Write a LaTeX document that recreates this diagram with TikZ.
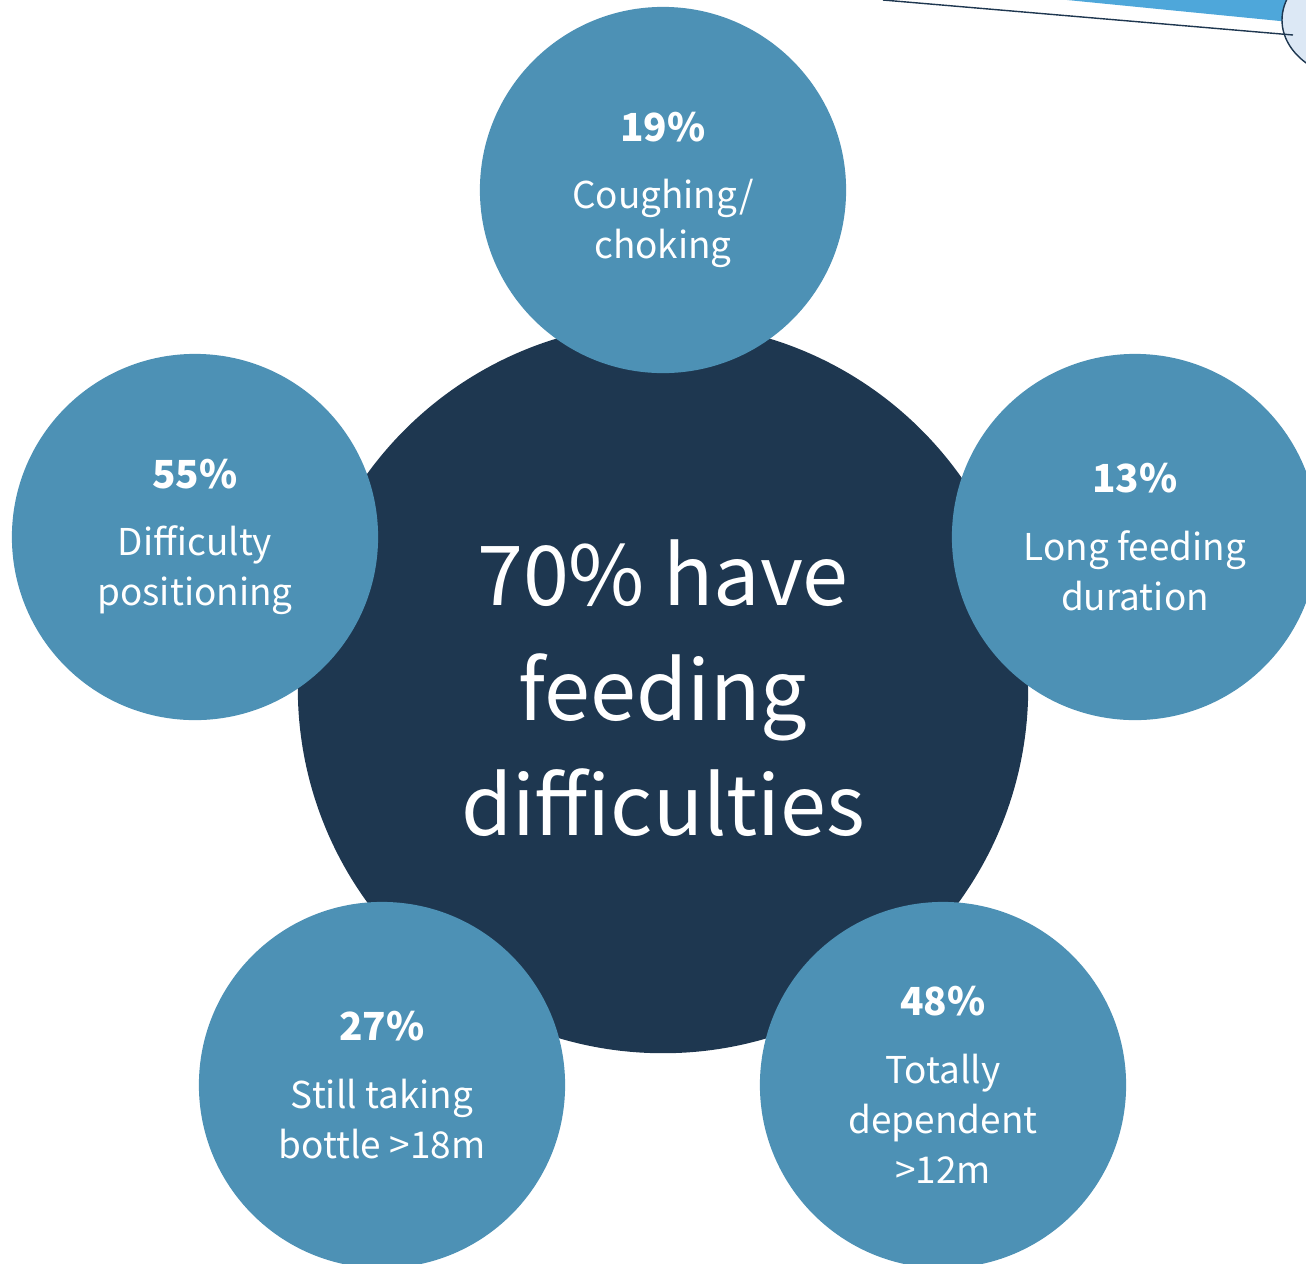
\documentclass[tikz,border=0pt]{standalone}
\usepackage{fontspec}
\setmainfont{Noto Sans CJK JP}
\definecolor{navy}{HTML}{1E3750}
\definecolor{steel}{HTML}{4D91B5}
\definecolor{band}{HTML}{4EA7DA}
\definecolor{pale}{HTML}{DCE8F5}
\newcommand{\pct}[1]{{\fontsize{11}{14}\bfseries #1}\\[5pt]}
\begin{document}
\begin{tikzpicture}[x=0.01cm, y=-0.01cm,
    item/.style={circle, fill=steel, minimum size=3.66cm, inner sep=0pt, text=white, align=center, font=\fontsize{10.5}{14.2}\selectfont}]
        \useasboundingbox (0,0) rectangle (1306,1263);
        \clip (0,0) rectangle (1306,1263);

        % corner decoration
        \fill[band] (1067,0) -- (1306,0) -- (1306,23) -- (1280,21) -- cycle;
        \draw[navy, line width=0.4pt, fill=pale] (1362,20) ellipse [x radius=80, y radius=60];
        \draw[navy, line width=0.4pt] (883,0) -- (1293,35);

        \node[circle, fill=navy, minimum size=7.3cm, inner sep=0pt, text=white, align=center, font=\fontsize{23.5}{32.7}\selectfont] (main) at (663,688) {70\% have\\feeding\\difficulties};

        \node[item] (cough) at (663,190) {\pct{19\%}Coughing/\\choking};
        \node[item] (pos) at (195,537) {\pct{55\%}Difficulty\\positioning};
        \node[item] (long) at (1135,537) {\pct{13\%}Long feeding\\duration};
        \node[item] (bottle) at (382,1085) {\pct{27\%}Still taking\\bottle >18m};
        \node[item] (dep) at (943,1085) {\pct{48\%}Totally\\dependent\\>12m};
    \end{tikzpicture}
\end{document}
